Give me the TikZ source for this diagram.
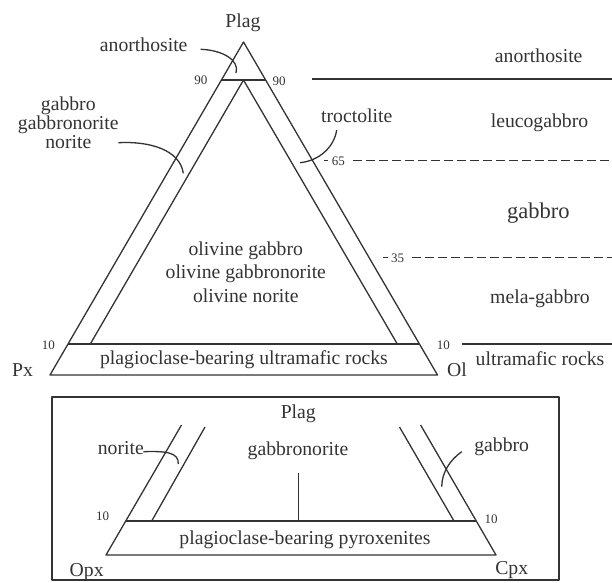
\documentclass[tikz,border=0pt]{standalone}
\usepackage{fontspec}
\setmainfont{Liberation Serif}
\usetikzlibrary{calc}
\definecolor{ink}{HTML}{333333}

\begin{document}
\begin{tikzpicture}[
    x=1pt, y=-1pt,
    line join=round,
    lbl/.style={font=\fontsize{19.7}{19.2}\selectfont, text=ink, inner sep=0pt, align=center},
    widelbl/.style={font=\fontsize{19.7}{23.5}\selectfont, text=ink, inner sep=0pt, align=center},
    bigl/.style={font=\fontsize{22.5}{26}\selectfont, text=ink, inner sep=0pt},
    num/.style={font=\fontsize{13}{15}\selectfont, text=ink, inner sep=0pt},
    edge/.style={draw=ink, line width=1.3pt},
    bound/.style={draw=ink, line width=2pt},
    dashbound/.style={draw=ink, line width=0.9pt, dash pattern=on 9pt off 4pt},
    leader/.style={draw=ink, line width=1.3pt}
]
\useasboundingbox (0,0) rectangle (612,582);

% --- upper ternary: Plag - Px - Ol ---
\coordinate (A)    at (243.5,42);
\coordinate (Px)   at (50,375);
\coordinate (Ol)   at (437.5,375);
\coordinate (a90l) at (221.4,80);
\coordinate (a90r) at (265.6,80);
\coordinate (a10l) at (68,344);
\coordinate (a10r) at (419.4,344);
\coordinate (ia)   at (243.5,80);
\coordinate (il)   at (90.3,344);
\coordinate (ir)   at (397.3,344);

\draw[edge] (A) -- (Px) -- (Ol) -- cycle;
\draw[edge] (a90l) -- (a90r);
\draw[edge] (a10l) -- (a10r);
\draw[edge] (il) -- (ia) -- (ir);

% corner and field labels
\node[lbl] (plag) at (243,22.5) {Plag};
\node[lbl] (pxl)  at (22.5,370) {Px};
\node[lbl] (oll)  at (457,370)  {Ol};
\node[lbl] (anoL) at (143.7,45) {anorthosite};
\node[lbl] (gnl)  at (68.3,122.5) {gabbro\\gabbronorite\\norite};
\node[lbl] (troc) at (356.7,116) {troctolite};
\node[widelbl] (olg) at (245.8,272) {olivine gabbro\\olivine gabbronorite\\olivine norite};
\node[lbl] (pbur) at (244,360) {plagioclase-bearing ultramafic rocks};

% ticks on the sides
\node[num] (n90l) at (200.8,80.5) {90};
\node[num] (n90r) at (279.2,81)   {90};
\node[num] (n10l) at (48.3,345)   {10};
\node[num] (n10r) at (443.3,345)  {10};
\node[num] (n65)  at (338.3,161.5) {65};
\node[num] (n35)  at (397.5,258.3) {35};
\draw[ink, line width=0.9pt] ($(n65.west)+(-8,-1.5)$) -- ($(n65.west)+(-4,-1.5)$);
\draw[ink, line width=0.9pt] ($(n35.west)+(-8,-1.3)$) -- ($(n35.west)+(-3,-1.3)$);

% leaders
\coordinate (anoS) at (200.7,49.3);
\coordinate (anoE) at (236,73);
\draw[leader] (anoS) .. controls (222,50) and (240,60) .. (anoE);
\coordinate (gnS) at (118.3,142.7);
\coordinate (gnE) at (183.3,173.3);
\draw[leader] (gnS) .. controls (150,141) and (180,150) .. (gnE);
\coordinate (trS) at (336.7,130);
\coordinate (trE) at (300,162.7);
\draw[leader] (trS) .. controls (334,148) and (318,161) .. (trE);

% --- classification column on the right ---
\coordinate (c90)  at (311.7,79);
\coordinate (c90e) at (612,79);
\coordinate (c65)  at (353.3,160);
\coordinate (c65e) at (612,160);
\coordinate (c35)  at (411.7,257);
\coordinate (c35e) at (612,257);
\coordinate (c10)  at (461.7,344);
\coordinate (c10e) at (612,344);
\draw[bound] (c90) -- (c90e);
\draw[dashbound] (c65) -- (c65e);
\draw[dashbound] (c35) -- (c35e);
\draw[bound] (c10) -- (c10e);

\node[lbl]  (anoR) at (538.7,56)    {anorthosite};
\node[lbl]  (leuc) at (539.5,122.5) {leucogabbro};
\node[bigl] (gabR) at (538.3,213.3) {gabbro};
\node[lbl]  (mela) at (540,299)     {mela-gabbro};
\node[lbl]  (umR)  at (540,359)     {ultramafic rocks};

% --- lower ternary: Plag - Opx - Cpx ---
\coordinate (bx1) at (52,397);
\coordinate (bx2) at (559,580);
\draw[edge] (bx1) rectangle (bx2);

\coordinate (Opx)  at (106,555);
\coordinate (Cpx)  at (496,555);
\coordinate (btl)  at (181.5,425);
\coordinate (btr)  at (420.6,425);
\coordinate (b10l) at (125.7,521);
\coordinate (b10r) at (476.3,521);
\coordinate (bil)  at (151.7,521);
\coordinate (bilt) at (205,427);
\coordinate (bir)  at (454,521);
\coordinate (birt) at (399.5,427);
\coordinate (bv)   at (298.3,473);
\coordinate (bvb)  at (298.3,521);

\draw[edge] (btl) -- (Opx) -- (Cpx) -- (btr);
\draw[edge] (b10l) -- (b10r);
\draw[edge] (bil) -- (bilt);
\draw[edge] (bir) -- (birt);
\draw[edge] (bv) -- (bvb);

\node[lbl] (plag2) at (298.3,413.3) {Plag};
\node[lbl] (gbn)   at (298,451)     {gabbronorite};
\node[lbl] (nor)   at (120.8,448.3) {norite};
\node[lbl] (gab2)  at (501.7,446.7) {gabbro};
\node[lbl] (pbpx)  at (305,540)     {plagioclase-bearing pyroxenites};
\node[lbl] (opxl)  at (86.7,571.7)  {Opx};
\node[lbl] (cpxl)  at (511.7,570)   {Cpx};
\node[num] (m10l)  at (102.5,516.7) {10};
\node[num] (m10r)  at (491,519)     {10};

\coordinate (norS) at (143.3,451.7);
\coordinate (norE) at (178.3,464);
\draw[leader] (norS) .. controls (165,451) and (179,452) .. (norE);
\coordinate (gabS) at (461.7,451.7);
\coordinate (gabE) at (441.7,486.7);
\draw[leader] (gabS) .. controls (450,460) and (442,472) .. (gabE);

\end{tikzpicture}
\end{document}
